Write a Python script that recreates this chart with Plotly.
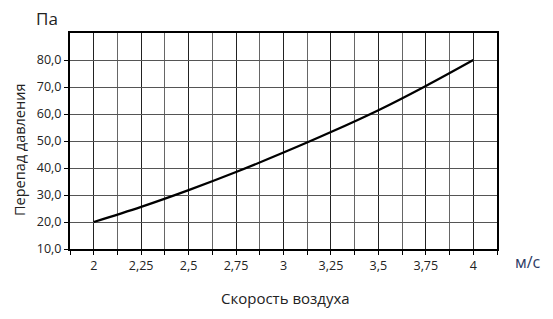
import plotly.graph_objects as go

# Data
speed = [2.0, 2.25, 2.5, 2.75, 3.0, 3.25, 3.5, 3.75, 4.0]
pressure = [20.0, 25.6, 31.8, 38.5, 45.7, 53.3, 61.4, 70.4, 80.0]

x_tickvals = [2, 2.25, 2.5, 2.75, 3, 3.25, 3.5, 3.75, 4]
x_ticktext = ["2", "2,25", "2,5", "2,75", "3", "3,25", "3,5", "3,75", "4"]
y_tickvals = [10, 20, 30, 40, 50, 60, 70, 80]
y_ticktext = ["10,0", "20,0", "30,0", "40,0", "50,0", "60,0", "70,0", "80,0"]

FONT = "Open Sans, Noto Sans, DejaVu Sans, sans-serif"

W, H = 553, 319
l, r, t, b = 70, 56, 33, 70
pw, ph = W - l - r, H - t - b


def px2paper(px, py):
    return (px - l) / pw, 1 - (py - t) / ph


fig = go.Figure()
fig.add_trace(go.Scatter(
    x=speed, y=pressure, mode="lines",
    line=dict(color="black", width=2.2, shape="spline", smoothing=1.0),
    showlegend=False, hoverinfo="skip",
))

labels = [
    ("Па", 47, 18, 17, "#222", 0),
    ("м/с", 528, 262, 16, "#2b3a64", 0),
    ("Скорость воздуха", 285, 298, 15, "#222", 0),
    ("Перепад давления", 19, 150, 14.5, "#222", -90),
]
annotations = []
for text, px, py, size, color, ang in labels:
    ax, ay = px2paper(px, py)
    annotations.append(dict(text=text, x=ax, y=ay, xref="paper", yref="paper",
                            showarrow=False, textangle=ang,
                            font=dict(size=size, color=color),
                            xanchor="center", yanchor="middle"))

fig.update_layout(
    width=W, height=H,
    margin=dict(l=l, r=r, t=t, b=b),
    paper_bgcolor="white", plot_bgcolor="white",
    font=dict(family=FONT, size=12, color="#222"),
    annotations=annotations,
)

fig.update_xaxes(
    range=[1.875, 4.125],
    tickmode="array", tickvals=x_tickvals, ticktext=x_ticktext,
    ticks="outside", ticklen=4, tickcolor="black", tickwidth=1,
    showgrid=True, gridcolor="#222", gridwidth=1,
    minor=dict(tick0=1.875, dtick=0.125, ticks="outside", ticklen=4,
               tickcolor="black", showgrid=True, gridcolor="#666", gridwidth=1),
    showline=True, linecolor="black", linewidth=2, mirror=True,
    zeroline=False, tickfont=dict(size=12.5, color="#222"),
)
fig.update_yaxes(
    range=[10, 90],
    tickmode="array", tickvals=y_tickvals, ticktext=y_ticktext,
    ticks="outside", ticklen=4, tickcolor="black", tickwidth=1,
    showgrid=True, gridcolor="#555", gridwidth=1,
    showline=True, linecolor="black", linewidth=2, mirror=True,
    zeroline=False, tickfont=dict(size=12.5, color="#222"),
)

fig.write_html("out.html")
